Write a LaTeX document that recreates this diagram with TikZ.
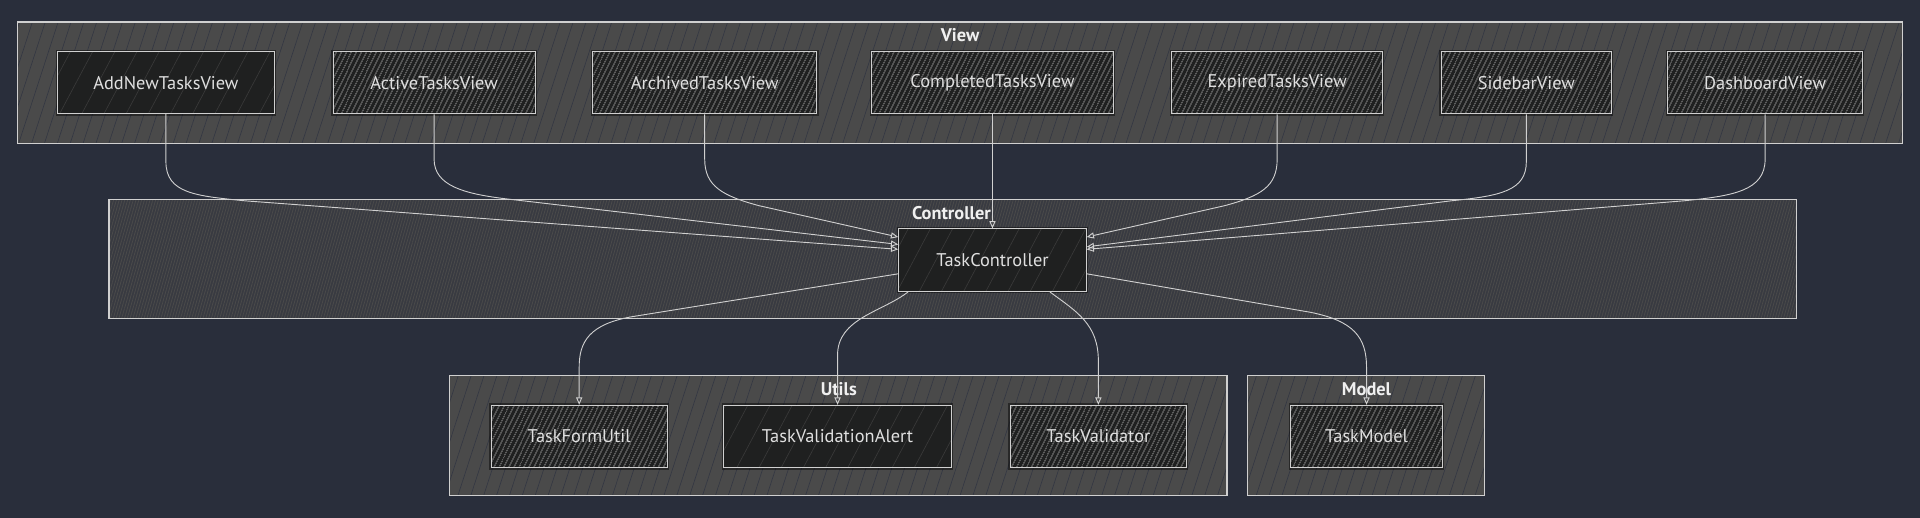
\documentclass[tikz,border=0pt]{standalone}
\usepackage{fontspec}
\setmainfont{PT Sans}
\usetikzlibrary{patterns.meta,arrows.meta}
\definecolor{bgc}{HTML}{292E3B}
\definecolor{clf}{HTML}{4A4A4A}
\definecolor{clh}{HTML}{333743}
\definecolor{ctf}{HTML}{383A41}
\definecolor{nf}{HTML}{1F2020}
\definecolor{nh}{HTML}{3A3A3A}
\definecolor{ln}{HTML}{D0D0D0}
\definecolor{tx}{HTML}{E0E0E0}
\tikzset{
  cluster/.style={draw=ln, line width=0.9pt, inner sep=0pt,
    preaction={fill=clf},
    pattern={Lines[angle=72,distance=10pt,line width=0.5pt]}, pattern color=clh},
  ctlcluster/.style={draw=ln, line width=0.9pt, inner sep=0pt,
    preaction={fill=ctf},
    pattern={Lines[angle=74,distance=2.2pt,line width=0.7pt]}, pattern color=clf},
  box/.style={draw=ln, line width=0.8pt, inner sep=0pt, minimum height=51pt,
    text=tx, font=\fontsize{15}{18}\selectfont,
    preaction={draw=black, line width=3pt, opacity=0.45},
    preaction={fill=nf},
    pattern={Lines[angle=64,distance=4pt,line width=0.6pt]}, pattern color=nh},
  sparsebox/.style={box, pattern={Lines[angle=62,distance=16pt,line width=0.5pt]}},
  ctitle/.style={text=white!94!black, font=\bfseries\fontsize{15}{18}\selectfont, inner sep=0pt},
  edge/.style={draw=ln, line width=0.75pt, -{Triangle[open,length=6pt,width=5pt]}},
}
\begin{document}
\begin{tikzpicture}[x=1pt,y=-1pt]
\fill[bgc] (0,0) rectangle (1568,423);
\useasboundingbox (0,0) rectangle (1568,423);
% clusters
\node[cluster, minimum width=1540pt, minimum height=99pt] (view) at (784,67.5) {};
\node[ctitle] (viewt) at (784,29) {View};
\node[ctlcluster, minimum width=1378pt, minimum height=97pt] (ctrl) at (778,211.5) {};
\node[ctitle] (ctrlt) at (777,174) {Controller};
\node[cluster, minimum width=635pt, minimum height=98pt] (utils) at (684.5,356) {};
\node[ctitle] (utilst) at (685,318) {Utils};
\node[cluster, minimum width=193pt, minimum height=98pt] (model) at (1115.5,356) {};
\node[ctitle] (modelt) at (1116,318) {Model};
% view nodes
\node[sparsebox, minimum width=177pt] (an) at (135.5,67.5) {AddNewTasksView};
\node[box, minimum width=165pt] (at) at (354.5,67.5) {ActiveTasksView};
\node[box, minimum width=183pt] (ar) at (575.5,67.5) {ArchivedTasksView};
\node[box, minimum width=197pt] (cv) at (810.5,67.5) {CompletedTasksView};
\node[box, minimum width=172pt] (ex) at (1043,67.5) {ExpiredTasksView};
\node[box, minimum width=139pt] (sb) at (1246.5,67.5) {SidebarView};
\node[box, minimum width=159pt] (db) at (1441.5,67.5) {DashboardView};
% controller
\node[sparsebox, minimum width=153pt] (ctl) at (810.5,212.5) {TaskController};
% utils & model
\node[box, minimum width=144pt] (fu) at (473,356.5) {TaskFormUtil};
\node[sparsebox, minimum width=186pt] (va) at (684,356.5) {TaskValidationAlert};
\node[box, minimum width=144pt] (vd) at (897,356.5) {TaskValidator};
\node[box, minimum width=124pt] (tm) at (1116,356.5) {TaskModel};
% edges view -> controller
\draw[edge] (an.south) -- (135.5,132) .. controls (135.5,158) and (160,160) .. (200,164) -- ([yshift=-17pt]ctl.north west);
\draw[edge] (at.south) -- (354.5,130) .. controls (354.5,152) and (380,158) .. (410,162) -- ([yshift=-13pt]ctl.north west);
\draw[edge] (ar.south) -- (575.5,130) .. controls (575.5,152) and (590,160) .. (620,168) -- ([yshift=-7pt]ctl.north west);
\draw[edge] (cv.south) -- (ctl.north);
\draw[edge] (ex.south) -- (1043,130) .. controls (1043,152) and (1030,160) .. (1000,168) -- ([yshift=-7pt]ctl.north east);
\draw[edge] (sb.south) -- (1246.5,132) .. controls (1246.5,156) and (1225,160) .. (1185,164) -- ([yshift=-15pt]ctl.north east);
\draw[edge] (db.south) -- (1441.5,130) .. controls (1441.5,156) and (1415,160) .. (1375,164) -- ([yshift=-17pt]ctl.north east);
% edges controller -> utils/model
\draw[edge] ([yshift=-37pt]ctl.north west) -- (520,258) .. controls (480,264) and (473,280) .. (473,300) -- (fu.north);
\draw[edge] ([xshift=8pt]ctl.south west) .. controls (720,255) and (684,260) .. (684,290) -- (va.north);
\draw[edge] ([xshift=-30pt]ctl.south east) .. controls (880,255) and (897,265) .. (897,295) -- (vd.north);
\draw[edge] ([yshift=-37pt]ctl.north east) -- (1070,255) .. controls (1105,262) and (1116,275) .. (1116,300) -- (tm.north);
\end{tikzpicture}
\end{document}
